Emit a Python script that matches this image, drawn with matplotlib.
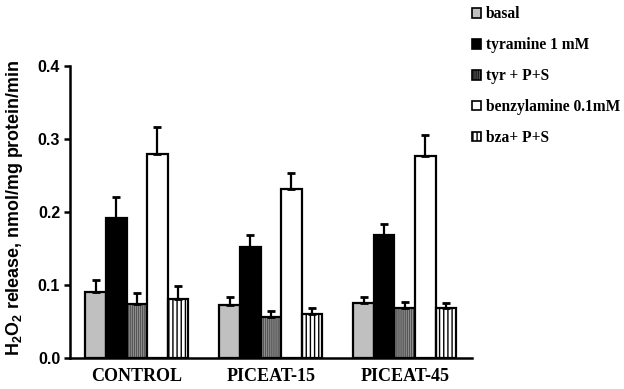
import numpy as np
import matplotlib
matplotlib.use("Agg")
import matplotlib.pyplot as plt
from matplotlib.patches import Patch

groups = ["CONTROL", "PICEAT-15", "PICEAT-45"]
series = ["basal", "tyramine 1 mM", "tyr + P+S", "benzylamine 0.1mM", "bza+ P+S"]

basal = [0.091, 0.072, 0.075]
tyramine = [0.192, 0.152, 0.168]
tyr_ps = [0.074, 0.056, 0.068]
benzylamine = [0.280, 0.232, 0.277]
bza_ps = [0.081, 0.060, 0.068]

basal_err = [0.016, 0.011, 0.008]
tyramine_err = [0.028, 0.016, 0.015]
tyr_ps_err = [0.015, 0.008, 0.009]
benzylamine_err = [0.037, 0.022, 0.028]
bza_ps_err = [0.017, 0.009, 0.008]

values = [basal, tyramine, tyr_ps, benzylamine, bza_ps]
errors = [basal_err, tyramine_err, tyr_ps_err, benzylamine_err, bza_ps_err]

# fill, hatch, hatch colour
styles = [
    ("#c0c0c0", "", None),
    ("#000000", "", None),
    ("#a6a6a6", "||||||||", "#555555"),
    ("#ffffff", "", None),
    ("#ffffff", "||||", "#000000"),
]

plt.rcParams["hatch.linewidth"] = 1.0
plt.rcParams["mathtext.fontset"] = "custom"
plt.rcParams["mathtext.rm"] = "Liberation Sans:bold"
plt.rcParams["mathtext.bf"] = "Liberation Sans:bold"
plt.rcParams["mathtext.default"] = "bf"

fig = plt.figure(figsize=(6.24, 3.89), dpi=100)
ax = fig.add_axes([0.112, 0.0797, 0.644, 0.7506])

x = np.arange(len(groups))
w = 0.154
for i, (vals, errs, (fc, hatch, hc)) in enumerate(zip(values, errors, styles)):
    pos = x + (i - 2) * w
    if hatch:
        ax.bar(pos, vals, w, color=fc, edgecolor=hc, hatch=hatch, linewidth=0, zorder=2)
        ax.bar(pos, vals, w, fill=False, edgecolor="black", linewidth=1.6, zorder=3)
    else:
        ax.bar(pos, vals, w, color=fc, edgecolor="black", linewidth=1.6, zorder=3)
    ax.errorbar(pos, vals, yerr=[np.zeros(len(errs)), errs], fmt="none",
                ecolor="black", elinewidth=1.6, capsize=3, capthick=2, zorder=4)

ax.set_xlim(-0.5, 2.5)
ax.set_ylim(0, 0.4)
ax.set_yticks([0.0, 0.1, 0.2, 0.3, 0.4])
ax.set_yticklabels(["0.0", "0.1", "0.2", "0.3", "0.4"],
                   fontfamily="Liberation Sans", fontweight="bold", fontsize=11.5)
ax.set_xticks(x)
ax.set_xticklabels(groups, fontfamily="Liberation Serif", fontweight="bold", fontsize=13)
ax.tick_params(axis="x", length=0, pad=7)
ax.tick_params(axis="y", length=4, width=1.8, direction="out", pad=3)
for s in ["top", "right"]:
    ax.spines[s].set_visible(False)
for s in ["left", "bottom"]:
    ax.spines[s].set_linewidth(1.8)

ax.set_ylabel("H$_2$O$_2$ release, nmol/mg protein/min",
              fontfamily="Liberation Sans", fontweight="bold", fontsize=12.9)
ax.yaxis.set_label_coords(-0.112, 0.515)

handles = []
for (fc, hatch, hc) in styles:
    handles.append(Patch(facecolor=fc, edgecolor="black", hatch=hatch, linewidth=1.2))
fig.legend(handles, series, loc="upper left", bbox_to_anchor=(0.742, 1.006),
           frameon=False, prop={"family": "Liberation Serif", "weight": "bold", "size": 11.2},
           handlelength=0.6, handleheight=0.6, handletextpad=0.3, labelspacing=0.96,
           borderaxespad=0.15)

fig.savefig("out.png", dpi=100)
